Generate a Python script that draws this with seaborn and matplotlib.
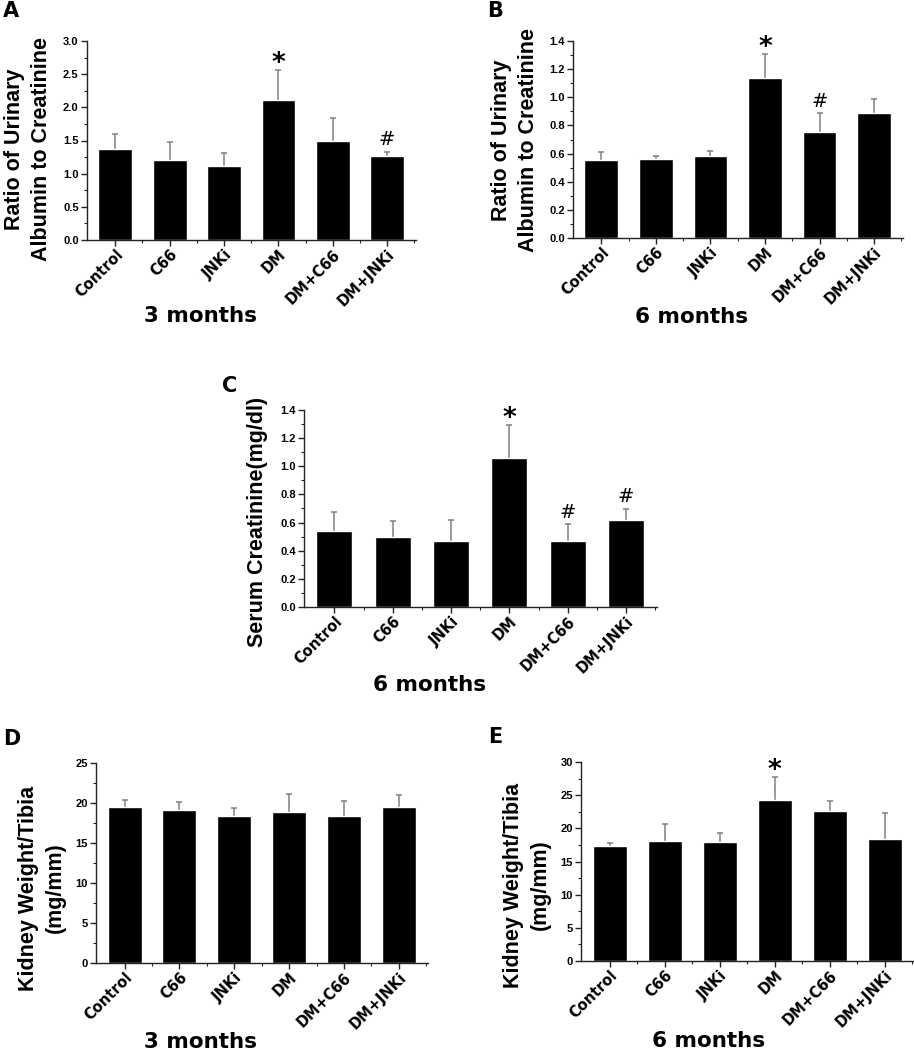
import numpy as np
import matplotlib
matplotlib.use("Agg")
import matplotlib.pyplot as plt
import seaborn as sns
from matplotlib.ticker import MultipleLocator, FixedLocator

# Groups (same for every panel)
groups = ["Control", "C66", "JNKi", "DM", "DM+C66", "DM+JNKi"]

# A: urinary albumin/creatinine, 3 months
a_mean = [1.37, 1.20, 1.11, 2.11, 1.49, 1.27]
a_err = [0.23, 0.28, 0.20, 0.45, 0.35, 0.06]
a_marks = ["", "", "", "*", "", "#"]

# B: urinary albumin/creatinine, 6 months
b_mean = [0.555, 0.56, 0.58, 1.14, 0.755, 0.89]
b_err = [0.055, 0.025, 0.04, 0.17, 0.13, 0.10]
b_marks = ["", "", "", "*", "#", ""]

# C: serum creatinine, 6 months
c_mean = [0.54, 0.50, 0.467, 1.06, 0.472, 0.62]
c_err = [0.135, 0.11, 0.15, 0.235, 0.115, 0.075]
c_marks = ["", "", "", "*", "#", "#"]

# D: kidney weight / tibia, 3 months
d_mean = [19.46, 19.17, 18.38, 18.88, 18.33, 19.54]
d_err = [0.87, 0.91, 1.0, 2.2, 1.88, 1.46]
d_marks = ["", "", "", "", "", ""]

# E: kidney weight / tibia, 6 months
e_mean = [17.3, 18.06, 17.91, 24.33, 22.63, 18.41]
e_err = [0.5, 2.66, 1.46, 3.47, 1.55, 3.92]
e_marks = ["", "", "", "*", "", ""]

sns.set_style("ticks")
plt.rcParams["font.family"] = ["Liberation Sans", "DejaVu Sans"]
plt.rcParams["text.color"] = "black"
plt.rcParams["xtick.color"] = "black"
plt.rcParams["ytick.color"] = "black"

W, H = 914, 1050
fig = plt.figure(figsize=(W / 100, H / 100), dpi=100)


def px_axes(x0, y0, x1, y1):
    # axes from pixel box (top-left origin)
    return fig.add_axes([x0 / W, 1 - y1 / H, (x1 - x0) / W, (y1 - y0) / H])


def panel(ax, means, errs, marks, ymax, major, minor):
    sns.barplot(x=groups, y=means, color="black", saturation=1, width=0.62,
                errorbar=None, ax=ax, zorder=2)
    x = np.arange(len(groups))
    _, caps, _ = ax.errorbar(x, means, yerr=[np.zeros(len(means)), errs],
                             fmt="none", ecolor="#808080", elinewidth=1.1,
                             capsize=2.5, capthick=1.1, zorder=1)
    caps[0].set_visible(False)  # no cap at the bar top
    for i, m in enumerate(marks):
        if not m:
            continue
        top = means[i] + errs[i]
        if m == "*":
            ax.annotate(m, (i, top), xytext=(0, -5), textcoords="offset points",
                        ha="center", va="bottom", fontsize=19, fontweight="bold",
                        family="DejaVu Sans")
        else:
            ax.annotate(m, (i, top), xytext=(0, 2), textcoords="offset points",
                        ha="center", va="bottom", fontsize=14,
                        family="DejaVu Sans")
    ax.set_xlim(-0.52, 5.53)
    ax.set_ylim(0, ymax)
    ax.yaxis.set_major_locator(MultipleLocator(major))
    ax.yaxis.set_minor_locator(MultipleLocator(minor))
    ax.xaxis.set_minor_locator(FixedLocator(np.arange(0.5, 5.6, 1)))
    ax.set_xlabel("")
    ax.set_ylabel("")
    sns.despine(ax=ax)
    for s in ["left", "bottom"]:
        ax.spines[s].set_linewidth(1.0)
        ax.spines[s].set_color("#222222")
    ax.tick_params(axis="both", which="major", direction="out", length=4,
                   width=1, color="#222222")
    ax.tick_params(axis="both", which="minor", direction="out", length=2,
                   width=0.8, color="#222222")
    ax.tick_params(axis="y", labelsize=8, pad=2)
    for lab in ax.get_yticklabels():
        lab.set_fontweight("bold")
    ax.tick_params(axis="x", pad=1)
    ax.set_xticks(x)
    ax.set_xticklabels(groups, rotation=45, ha="right", rotation_mode="anchor",
                       fontsize=10.5, fontweight="bold", family="DejaVu Sans")


def ftext(px, py, s, **kw):
    fig.text(px / W, 1 - py / H, s, **kw)


ylab_kw = dict(rotation=90, ha="center", va="center", fontsize=15.5,
               fontweight="bold", multialignment="center", linespacing=1.4,
               family="Liberation Sans")
month_kw = dict(ha="center", va="baseline", fontsize=15.5, fontweight="bold",
                family="DejaVu Sans")
letter_kw = dict(ha="left", va="baseline", fontsize=15, fontweight="bold",
                 family="DejaVu Sans")

axA = px_axes(87, 41, 416, 240)
panel(axA, a_mean, a_err, a_marks, 3.0, 0.5, 0.25)
axB = px_axes(573, 41, 903, 238)
panel(axB, b_mean, b_err, b_marks, 1.4, 0.2, 0.1)
axC = px_axes(304, 410, 657, 607)
panel(axC, c_mean, c_err, c_marks, 1.4, 0.2, 0.1)
axD = px_axes(96, 763, 428, 963)
panel(axD, d_mean, d_err, d_marks, 25, 5, 2.5)
axE = px_axes(581, 762, 914, 961)
panel(axE, e_mean, e_err, e_marks, 30, 5, 2.5)

ftext(28, 149, "Ratio of Urinary\nAlbumin to Creatinine", **ylab_kw)
ftext(515, 140, "Ratio of Urinary\nAlbumin to Creatinine", **ylab_kw)
ftext(257, 522, "Serum Creatinine(mg/dl)", **ylab_kw)
ftext(42, 888, "Kidney Weight/Tibia\n(mg/mm)", **ylab_kw)
ftext(527, 885, "Kidney Weight/Tibia\n(mg/mm)", **ylab_kw)

ftext(201, 322, "3 months", **month_kw)
ftext(692, 323, "6 months", **month_kw)
ftext(430, 691, "6 months", **month_kw)
ftext(200, 1048, "3 months", **month_kw)
ftext(709, 1047, "6 months", **month_kw)

ftext(3, 17, "A", **letter_kw)
ftext(487, 17, "B", **letter_kw)
ftext(222, 392, "C", **letter_kw)
ftext(3, 745, "D", **letter_kw)
ftext(488, 743, "E", **letter_kw)

fig.savefig("out.png", dpi=100, facecolor="white")
